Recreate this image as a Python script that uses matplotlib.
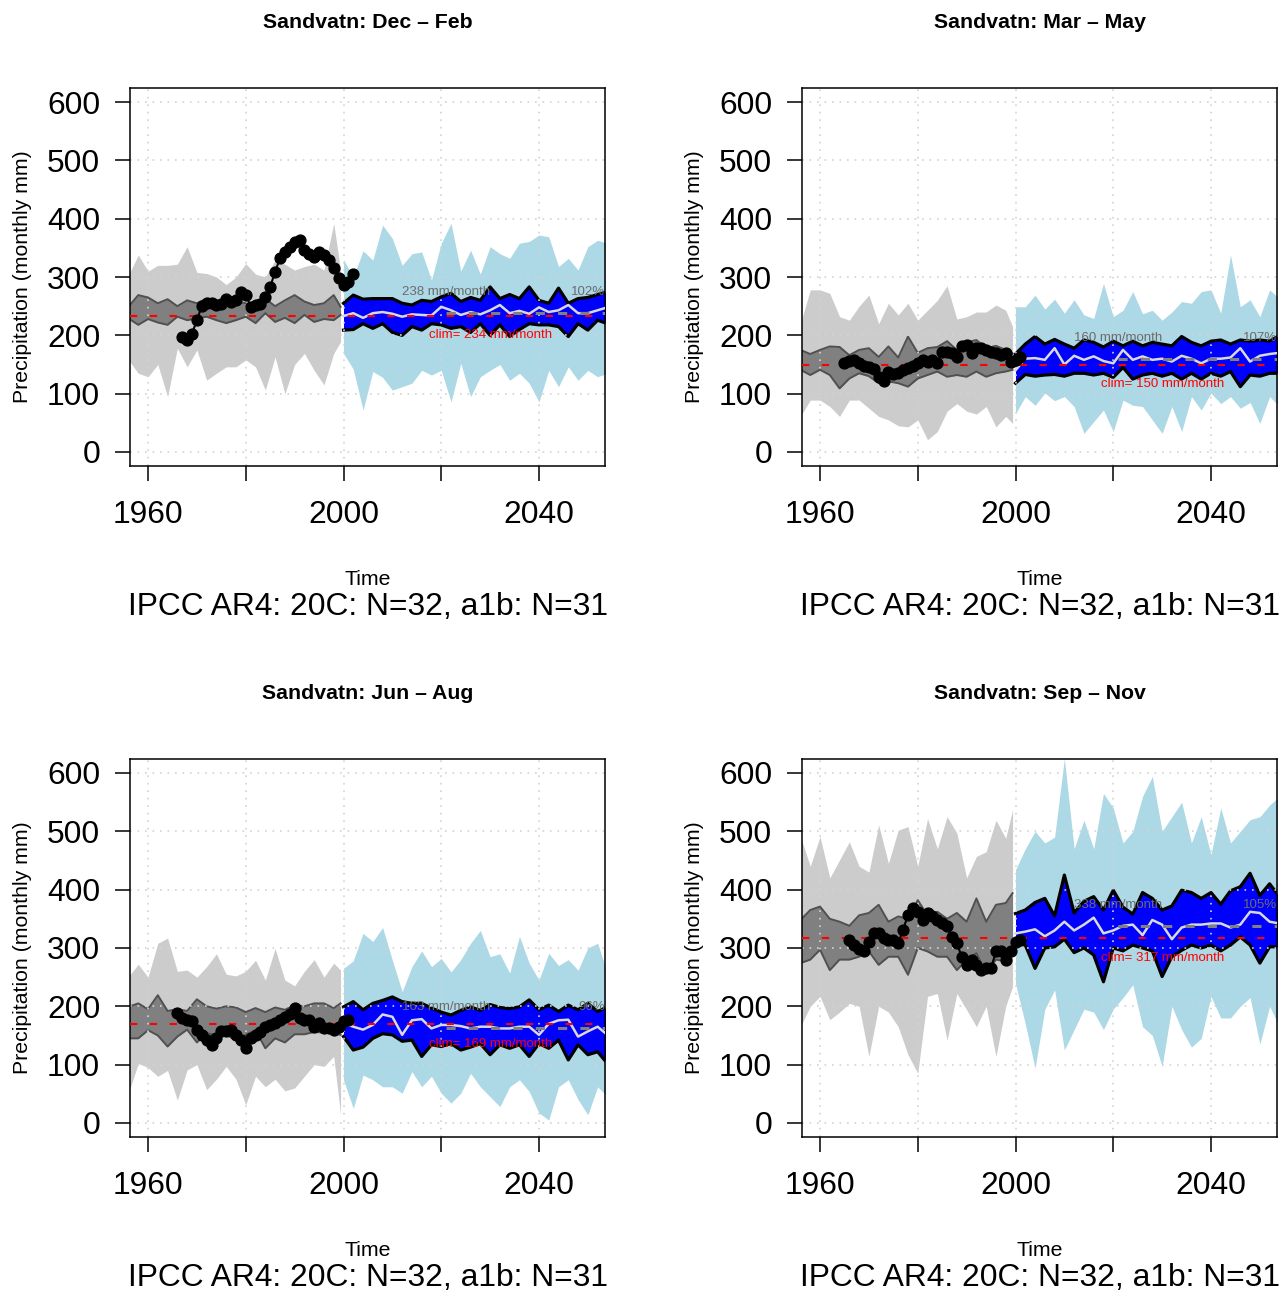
"""
Seasonal precipitation at Sandvatn: observations vs IPCC AR4 ensembles
(20C runs in grey, a1b scenario in blue), four seasons in a 2x2 grid.
"""

import numpy as np
import matplotlib
matplotlib.use('Agg')
import matplotlib.pyplot as plt

plt.rcParams['font.family'] = ['Liberation Sans', 'DejaVu Sans']

# time axes for the ensemble bands
YEARS_20C = np.append(np.arange(1956, 1999, 2), 1999.4)
YEARS_A1B = np.arange(2000, 2055, 2)

# ---------------- Dec - Feb ----------------
djf_20c_hi = [303, 338, 310, 320, 320, 322, 352, 308, 306, 300, 287, 300, 323, 305, 300, 329, 322, 312, 318, 322, 312, 392, 312]
djf_20c_lo = [158, 135, 129, 150, 95, 178, 146, 175, 123, 135, 146, 146, 158, 146, 106, 163, 100, 150, 169, 140, 115, 169, 189]
djf_20c_qhi = [249, 269, 265, 255, 262, 250, 260, 255, 263, 250, 263, 258, 255, 246, 263, 250, 260, 269, 258, 252, 255, 269, 249]
djf_20c_qlo = [229, 218, 228, 222, 218, 232, 226, 229, 232, 226, 221, 226, 232, 221, 238, 223, 230, 221, 235, 223, 228, 226, 235]
djf_a1b_hi = [330, 300, 345, 329, 389, 366, 320, 340, 343, 295, 358, 392, 310, 346, 305, 352, 340, 332, 358, 361, 372, 369, 318, 332, 312, 352, 363, 358]
djf_a1b_lo = [169, 142, 72, 138, 128, 106, 112, 118, 140, 132, 140, 86, 152, 95, 129, 140, 150, 123, 135, 118, 86, 140, 112, 146, 123, 140, 129, 135]
djf_a1b_qhi = [255, 269, 262, 263, 263, 263, 255, 252, 260, 258, 266, 272, 258, 265, 260, 283, 263, 270, 263, 283, 260, 255, 281, 255, 263, 265, 270, 275]
djf_a1b_qlo = [209, 210, 220, 212, 220, 205, 200, 215, 209, 220, 218, 212, 215, 205, 220, 200, 218, 198, 210, 220, 218, 218, 215, 198, 220, 209, 226, 220]
djf_a1b_mean = [233, 238, 230, 238, 240, 237, 232, 236, 235, 234, 249, 243, 235, 240, 236, 243, 252, 238, 242, 237, 248, 240, 243, 252, 238, 238, 243, 248]
djf_obs_years = np.arange(1967, 2003)
djf_obs = [198, 192, 203, 226, 250, 255, 256, 252, 253, 262, 258, 260, 275, 270, 249, 252, 253, 266,
           283, 309, 332, 343, 352, 360, 363, 346, 340, 335, 343, 338, 329, 315, 298, 286, 292, 306]

# ---------------- Mar - May ----------------
mam_20c_hi = [220, 278, 278, 272, 232, 226, 250, 269, 220, 255, 235, 255, 226, 243, 260, 285, 228, 232, 240, 240, 252, 243, 215]
mam_20c_lo = [61, 89, 89, 78, 61, 89, 89, 75, 61, 55, 45, 43, 55, 21, 35, 70, 83, 70, 65, 78, 43, 61, 49]
mam_20c_qhi = [175, 168, 175, 181, 180, 166, 175, 178, 163, 181, 162, 198, 170, 178, 180, 190, 175, 188, 192, 178, 182, 175, 169]
mam_20c_qlo = [141, 132, 141, 132, 109, 126, 135, 130, 118, 121, 118, 112, 126, 132, 138, 129, 132, 129, 138, 129, 135, 138, 141]
mam_a1b_hi = [249, 249, 269, 245, 262, 238, 261, 235, 229, 289, 232, 243, 275, 237, 243, 226, 240, 258, 255, 275, 278, 238, 338, 249, 261, 232, 278, 263]
mam_a1b_lo = [66, 95, 80, 101, 88, 95, 78, 32, 52, 72, 35, 89, 80, 78, 55, 32, 78, 35, 95, 72, 101, 83, 95, 75, 85, 49, 95, 78]
mam_a1b_qhi = [168, 185, 198, 185, 193, 185, 178, 192, 188, 180, 190, 182, 190, 182, 188, 185, 182, 198, 188, 182, 190, 192, 185, 192, 190, 192, 190, 200]
mam_a1b_qlo = [118, 133, 130, 132, 133, 130, 135, 135, 132, 135, 128, 145, 125, 132, 135, 130, 135, 125, 135, 125, 135, 130, 138, 112, 132, 130, 135, 135]
mam_a1b_mean = [140, 160, 161, 158, 178, 150, 165, 158, 164, 156, 152, 175, 158, 164, 158, 160, 155, 165, 160, 152, 160, 160, 162, 178, 155, 165, 168, 170]
mam_obs_years = np.arange(1965, 2002)
mam_obs = [152, 156, 158, 153, 148, 145, 142, 129, 121, 138, 133, 135, 141, 144, 148, 152, 158, 155, 158,
           152, 172, 172, 170, 163, 181, 183, 169, 178, 178, 175, 172, 169, 166, 169, 155, 158, 163]

# ---------------- Jun - Aug ----------------
jja_20c_hi = [251, 272, 250, 308, 317, 260, 262, 250, 268, 290, 255, 252, 260, 279, 245, 299, 245, 235, 260, 280, 250, 274, 262]
jja_20c_lo = [51, 102, 95, 80, 90, 39, 91, 100, 57, 75, 97, 75, 31, 80, 62, 75, 55, 60, 80, 100, 97, 114, 14]
jja_20c_qhi = [199, 205, 195, 219, 192, 195, 192, 212, 200, 196, 200, 198, 190, 197, 190, 198, 194, 202, 200, 205, 205, 197, 205]
jja_20c_qlo = [145, 145, 159, 150, 131, 148, 160, 138, 154, 150, 151, 142, 151, 159, 128, 145, 138, 152, 152, 156, 155, 154, 151]
jja_a1b_hi = [265, 278, 325, 311, 335, 279, 225, 268, 295, 268, 282, 259, 280, 308, 330, 285, 290, 257, 320, 274, 245, 291, 270, 280, 262, 300, 308, 257]
jja_a1b_lo = [74, 25, 82, 74, 62, 62, 51, 88, 62, 80, 51, 34, 51, 85, 62, 45, 28, 62, 74, 54, 17, 5, 62, 74, 40, 14, 62, 45]
jja_a1b_qhi = [199, 208, 194, 205, 210, 216, 208, 205, 205, 197, 190, 185, 193, 199, 193, 203, 198, 196, 199, 211, 194, 202, 191, 202, 194, 205, 191, 199]
jja_a1b_qlo = [148, 125, 130, 145, 153, 151, 140, 142, 114, 134, 131, 136, 125, 130, 136, 117, 134, 128, 134, 114, 136, 128, 142, 108, 134, 117, 122, 102]
jja_a1b_mean = [171, 165, 160, 168, 186, 182, 151, 176, 178, 162, 168, 168, 166, 162, 165, 165, 162, 162, 165, 165, 151, 170, 176, 177, 148, 157, 165, 151]
jja_obs_years = np.arange(1966, 2002)
jja_obs = [188, 180, 177, 174, 159, 150, 142, 134, 145, 158, 157, 159, 150, 142, 128, 145, 150, 156,
           165, 168, 171, 177, 182, 187, 197, 180, 177, 176, 165, 171, 162, 162, 160, 165, 174, 177]

# ---------------- Sep - Nov ----------------
son_20c_hi = [491, 440, 491, 420, 451, 482, 440, 430, 511, 445, 502, 508, 440, 522, 470, 525, 497, 420, 457, 465, 519, 488, 537]
son_20c_lo = [165, 200, 217, 177, 190, 205, 200, 114, 200, 190, 165, 117, 85, 217, 222, 142, 222, 194, 165, 200, 114, 200, 234]
son_20c_qhi = [348, 365, 371, 350, 345, 338, 356, 360, 374, 345, 354, 350, 382, 356, 362, 350, 360, 345, 385, 345, 374, 377, 394]
son_20c_qlo = [274, 280, 297, 262, 280, 280, 285, 294, 271, 285, 285, 254, 300, 294, 285, 285, 262, 280, 291, 257, 280, 277, 297]
son_a1b_hi = [434, 470, 500, 480, 490, 625, 470, 519, 470, 565, 540, 480, 500, 560, 594, 500, 525, 550, 480, 525, 460, 540, 480, 500, 520, 525, 545, 560]
son_a1b_lo = [239, 170, 94, 195, 228, 125, 160, 195, 190, 160, 195, 215, 237, 165, 150, 97, 200, 160, 130, 145, 217, 180, 180, 200, 215, 135, 200, 165]
son_a1b_qhi = [359, 365, 378, 385, 355, 425, 360, 380, 388, 365, 399, 370, 358, 395, 385, 365, 372, 399, 395, 385, 395, 375, 398, 405, 428, 390, 410, 388]
son_a1b_qlo = [308, 305, 265, 300, 302, 315, 292, 300, 288, 242, 300, 295, 305, 300, 295, 251, 285, 296, 305, 300, 305, 295, 305, 319, 305, 274, 302, 302]
son_a1b_mean = [325, 328, 332, 320, 330, 345, 330, 340, 352, 325, 330, 338, 340, 322, 348, 340, 315, 335, 340, 340, 342, 342, 335, 340, 362, 360, 345, 342]
son_obs_years = np.arange(1966, 2002)
son_obs = [314, 305, 299, 294, 311, 325, 325, 317, 314, 314, 309, 331, 357, 368, 362, 348, 360, 354,
           348, 342, 337, 319, 308, 285, 271, 280, 271, 262, 265, 265, 294, 294, 280, 294, 311, 314]

seasons = ['Dec \u2013 Feb', 'Mar \u2013 May', 'Jun \u2013 Aug', 'Sep \u2013 Nov']
clims = [234, 150, 169, 317]
future_means = [238, 160, 163, 338]
ratios = ['102%', '107%', '96%', '105%']

XTICKS = [1960, 1980, 2000, 2020, 2040]
XTICKLABELS = ['1960', '', '2000', '', '2040']


def draw_panel(ax, season, bands_20c, bands_a1b, a1b_mean, obs_years, obs, clim, fut, ratio):
    """one season: ensemble envelopes, ensemble mean, observations"""
    hi20, lo20, qhi20, qlo20 = bands_20c
    hiA, loA, qhiA, qloA = bands_a1b

    ax.set_xlim(1956.4, 2053.6)
    ax.set_ylim(-24, 624)

    # 20C runs: full range + inner range
    ax.fill_between(YEARS_20C, lo20, hi20, color='#CCCCCC', lw=0, zorder=1)
    ax.fill_between(YEARS_20C, qlo20, qhi20, color='#808080', lw=0, zorder=1.1)
    ax.plot(YEARS_20C, qhi20, color='#505050', lw=1.4, zorder=1.2)
    ax.plot(YEARS_20C, qlo20, color='#505050', lw=1.4, zorder=1.2)

    # a1b runs
    ax.fill_between(YEARS_A1B, loA, hiA, color='#ADD8E6', lw=0, zorder=1)
    ax.fill_between(YEARS_A1B, qloA, qhiA, color='#0000FF', lw=0, zorder=1.1)
    ax.plot(YEARS_A1B, qhiA, color='black', lw=2.3, zorder=1.2)
    ax.plot(YEARS_A1B, qloA, color='black', lw=2.3, zorder=1.2)

    # dotted grid drawn over the bands
    for x in XTICKS:
        ax.axvline(x, color='#D3D3D3', lw=1.2, ls=(0, (1, 3.5)), zorder=2)
    for y in range(0, 601, 100):
        ax.axhline(y, color='#D3D3D3', lw=1.2, ls=(0, (1, 3.5)), zorder=2)

    ax.plot(YEARS_A1B, a1b_mean, color='#D9D9D9', lw=1.8, zorder=3)
    ax.hlines(fut, 2021, 2054, color='#808080', lw=2.2, linestyles=[(0, (3, 4.3))], zorder=3.1)
    ax.axhline(clim, color='red', lw=1.5, ls=(0, (3.5, 6)), zorder=3.2)

    # observations (running values)
    ax.plot(obs_years, obs, '-o', color='black', lw=1.5, ms=7.8, zorder=4)

    ax.text(2012, fut + 36, f'{fut} mm/month', color='#6B6B6B', fontsize=9.5,
            ha='left', va='center', zorder=5)
    ax.text(2053.6, fut + 36, ratio, color='#6B6B6B', fontsize=9.5,
            ha='right', va='center', zorder=5)
    ax.text(2017.4, clim - 34, f'clim= {clim} mm/month', color='red', fontsize=9.5,
            ha='left', va='center', zorder=5)

    # axes styling (R look)
    ax.set_xticks(XTICKS)
    ax.set_xticklabels(XTICKLABELS)
    ax.set_yticks(range(0, 601, 100))
    ax.tick_params(axis='both', direction='out', length=10.8, width=1.1, labelsize=22.9)
    ax.tick_params(axis='x', pad=14)
    ax.tick_params(axis='y', pad=11)
    for s in ax.spines.values():
        s.set_linewidth(1.1)

    ax.text(0.5, 1.1746, f'Sandvatn: {season}', transform=ax.transAxes,
            ha='center', va='center', fontsize=15.3, fontweight='bold')
    ax.text(-0.228, 0.5, 'Precipitation (monthly mm)', transform=ax.transAxes,
            ha='center', va='center', rotation=90, fontsize=15.3)
    ax.text(0.5, -0.3016, 'Time', transform=ax.transAxes,
            ha='center', va='center', fontsize=15.3)
    ax.text(0.5, -0.373, 'IPCC AR4: 20C: N=32, a1b: N=31', transform=ax.transAxes,
            ha='center', va='center', fontsize=22.9)


fig = plt.figure(figsize=(12.8, 12.93), dpi=100)

positions = [
    [0.1019, 0.6396, 0.3711, 0.2923],
    [0.6269, 0.6396, 0.3711, 0.2923],
    [0.1019, 0.1207, 0.3711, 0.2923],
    [0.6269, 0.1207, 0.3711, 0.2923],
]

panels = [
    ((djf_20c_hi, djf_20c_lo, djf_20c_qhi, djf_20c_qlo),
     (djf_a1b_hi, djf_a1b_lo, djf_a1b_qhi, djf_a1b_qlo), djf_a1b_mean, djf_obs_years, djf_obs),
    ((mam_20c_hi, mam_20c_lo, mam_20c_qhi, mam_20c_qlo),
     (mam_a1b_hi, mam_a1b_lo, mam_a1b_qhi, mam_a1b_qlo), mam_a1b_mean, mam_obs_years, mam_obs),
    ((jja_20c_hi, jja_20c_lo, jja_20c_qhi, jja_20c_qlo),
     (jja_a1b_hi, jja_a1b_lo, jja_a1b_qhi, jja_a1b_qlo), jja_a1b_mean, jja_obs_years, jja_obs),
    ((son_20c_hi, son_20c_lo, son_20c_qhi, son_20c_qlo),
     (son_a1b_hi, son_a1b_lo, son_a1b_qhi, son_a1b_qlo), son_a1b_mean, son_obs_years, son_obs),
]

for i, (b20, ba1b, amean, oyears, ovals) in enumerate(panels):
    ax = fig.add_axes(positions[i])
    draw_panel(ax, seasons[i], b20, ba1b, amean, oyears, ovals,
               clims[i], future_means[i], ratios[i])

fig.savefig('out.png', dpi=100)
